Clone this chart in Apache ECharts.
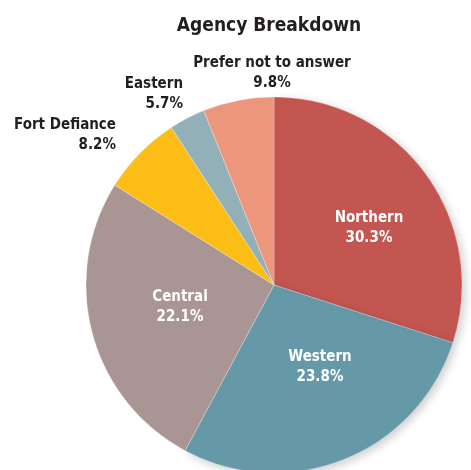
<!DOCTYPE html>
<html>
<head>
<meta charset="utf-8">
<script src="https://cdn.jsdelivr.net/npm/echarts@6/dist/echarts.min.js"></script>
<style>
  html, body { margin: 0; padding: 0; background: #fff; }
  #chart { width: 471px; height: 470px; }
</style>
</head>
<body>
<div id="chart"></div>
<script>
// slice names, drawn share and the printed percentages
var names = ['Northern', 'Western', 'Central', 'Fort Defiance', 'Eastern', 'Prefer not to answer'];
var values = [30.0, 27.9, 26.1, 6.9, 3.1, 6.1];
var pctText = ['30.3%', '23.8%', '22.1%', '8.2%', '5.7%', '9.8%'];
var colors = ['#c45651', '#6699a8', '#a99593', '#fbbd16', '#93afb8', '#ec977b'];

// where each label goes (inside ones white, outside ones dark)
var labelPos = [
  { x: 369, y: 228, align: 'center', inside: true },
  { x: 320, y: 367, align: 'center', inside: true },
  { x: 180, y: 307, align: 'center', inside: true },
  { x: 116, y: 135, align: 'right', inside: false },
  { x: 183, y: 94, align: 'right', inside: false },
  { x: 272, y: 73, align: 'center', inside: false }
];

var font = '"DejaVu Sans Condensed", "Liberation Sans Narrow", sans-serif';

var chart = echarts.init(document.getElementById('chart'));

var seriesData = names.map(function (n, i) {
  // only the right / bottom slices cast the soft shadow
  var shadow = i < 2;
  return {
    name: n,
    value: values[i],
    itemStyle: {
      color: colors[i],
      shadowBlur: shadow ? 10 : 0,
      shadowOffsetX: shadow ? 3 : 0,
      shadowOffsetY: shadow ? 3 : 0,
      shadowColor: shadow ? 'rgba(0,0,0,0.2)' : 'transparent'
    },
    label: {
      color: labelPos[i].inside ? '#ffffff' : '#231f20',
      align: labelPos[i].align
    }
  };
});

chart.setOption({
  animation: false,
  title: {
    text: 'Agency Breakdown',
    left: 264,
    textAlign: 'center',
    top: 12,
    textStyle: { fontFamily: font, fontSize: 19, fontWeight: 'bold', color: '#231f20' }
  },
  series: [{
    type: 'pie',
    center: [274, 285],
    radius: 188,
    startAngle: 90,
    clockwise: true,
    itemStyle: {
      borderColor: 'rgba(255,255,255,0.5)',
      borderWidth: 0.5
    },
    label: {
      show: true,
      position: 'inside',
      fontFamily: font,
      fontSize: 15,
      fontWeight: 'bold',
      lineHeight: 20,
      formatter: function (p) {
        return p.name + '\n' + pctText[p.dataIndex];
      }
    },
    labelLine: { show: false },
    labelLayout: function (p) {
      var lp = labelPos[p.dataIndex];
      return { x: lp.x, y: lp.y, align: lp.align, verticalAlign: 'middle' };
    },
    emphasis: { disabled: true },
    data: seriesData
  }]
});
</script>
</body>
</html>
